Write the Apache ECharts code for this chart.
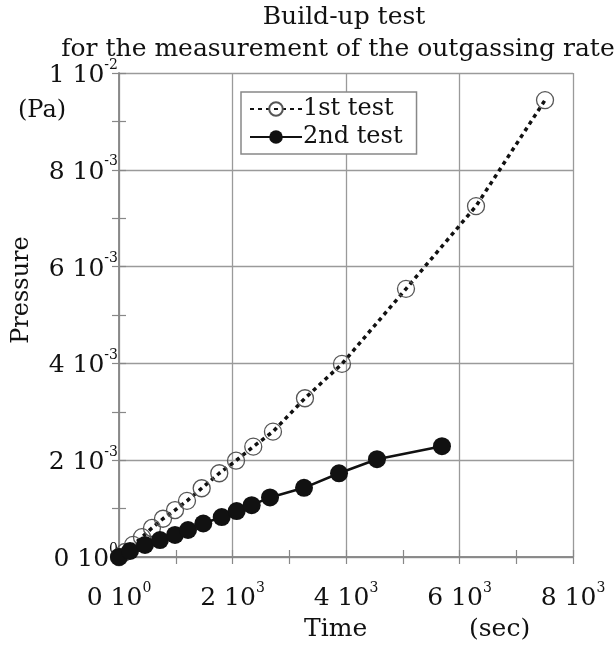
<!DOCTYPE html>
<html>
<head>
<meta charset="utf-8">
<script src="https://cdn.jsdelivr.net/npm/echarts@6/dist/echarts.min.js"></script>
<style>
html,body{margin:0;padding:0;background:#fff;}
#chart{width:614px;height:645px;}
</style>
</head>
<body>
<div id="chart"></div>
<script>
// ---- data ----
const test1Time = [0, 106, 247, 405, 581, 775, 987, 1198, 1457, 1767, 2062, 2366, 2713, 3277, 3929, 5057, 6291, 7507];
const test1Pressure = [0, 0.000103, 0.00025, 0.00041, 0.0006, 0.00079, 0.00097, 0.00116, 0.00142, 0.00173, 0.00199, 0.00228, 0.00259, 0.00328, 0.00399, 0.00554, 0.00725, 0.00944];
const test2Time = [0, 194, 458, 722, 987, 1216, 1485, 1810, 2074, 2338, 2661, 3260, 3877, 4546, 5691];
const test2Pressure = [0, 0.000124, 0.000248, 0.000351, 0.000455, 0.000558, 0.000692, 0.000826, 0.00095, 0.00107, 0.00123, 0.00143, 0.00173, 0.00202, 0.00229];
const xTickMantissa = ['0', '2', '4', '6', '8'];
const xTickExponent = ['0', '3', '3', '3', '3'];
const yTickMantissa = ['0', '2', '4', '6', '8', '1'];
const yTickExponent = ['0', '-3', '-3', '-3', '-3', '-2'];
const seriesNames = ['1st test', '2nd test'];

const FONT = '"DejaVu Serif", "Liberation Serif", serif';
const chart = echarts.init(document.getElementById('chart'));

const richStyle = {
  m: { fontSize: 25, fontFamily: FONT, color: '#111', lineHeight: 30, verticalAlign: 'bottom' },
  s: { fontSize: 14, fontFamily: FONT, color: '#111', lineHeight: 30, verticalAlign: 'top' }
};

function pairs(xs, ys) { return xs.map((x, i) => [x, ys[i]]); }

const gridCol = '#9a9a9a';
const common = {
  axisLine: { show: true, lineStyle: { color: '#888', width: 1.5 } },
  axisTick: { show: true, inside: true, length: 7, lineStyle: { color: '#888', width: 1.2 } },
  minorTick: { show: true, splitNumber: 2, length: 7, lineStyle: { color: '#888', width: 1.2 } },
};
const txt = (size) => ({ fontFamily: FONT, fontSize: size, fontWeight: 'normal', color: '#111' });

chart.setOption({
  animation: false,
  backgroundColor: '#fff',
  title: [
    { text: 'Build-up test', left: 339, top: 0, textAlign: 'center', textStyle: txt(25) },
    { text: 'for the measurement of the outgassing rate', left: 333, top: 32, textAlign: 'center', textStyle: txt(25) }
  ],
  graphic: [
    { type: 'text', left: 18, top: 99, style: { text: '(Pa)', font: '24px ' + FONT, fill: '#111' } },
    { type: 'text', x: 22, y: 290, rotation: Math.PI / 2,
      style: { text: 'Pressure', font: '24px ' + FONT, fill: '#111', align: 'center', verticalAlign: 'middle' } },
    { type: 'text', left: 304, top: 617, style: { text: 'Time', font: '25px ' + FONT, fill: '#111' } },
    { type: 'text', left: 469, top: 617, style: { text: '(sec)', font: '25px ' + FONT, fill: '#111' } }
  ],
  legend: {
    left: 241, top: 92, orient: 'vertical',
    data: seriesNames,
    backgroundColor: '#fff', borderColor: '#888', borderWidth: 1.5,
    padding: [5, 14, 5, 8], itemGap: 4, itemWidth: 52, itemHeight: 17,
    textStyle: { fontFamily: FONT, fontSize: 24, color: '#111', padding: [0, 0, 0, -4] }
  },
  grid: { left: 119, right: 41, top: 73, bottom: 88, containLabel: false, outerBoundsMode: 'none' },
  xAxis: [
    Object.assign({}, common, {
      type: 'value', min: 0, max: 8000, interval: 2000,
      axisLabel: { margin: 24, formatter: v => { const i = Math.round(v / 2000); return '{m|' + xTickMantissa[i] + ' 10}{s|' + xTickExponent[i] + '}'; }, rich: richStyle },
      splitLine: { show: true, lineStyle: { color: gridCol, width: 1.3 } }
    }),
    Object.assign({}, common, {
      type: 'value', min: 0, max: 8000, interval: 2000, position: 'top',
      axisLabel: { show: false }, splitLine: { show: false }
    })
  ],
  yAxis: [
    Object.assign({}, common, {
      type: 'value', min: 0, max: 0.01, interval: 0.002,
      axisLabel: { margin: 1, formatter: v => { const i = Math.round(v / 0.002); return '{m|' + yTickMantissa[i] + ' 10}{s|' + yTickExponent[i] + '}'; }, rich: richStyle },
      splitLine: { show: true, lineStyle: { color: gridCol, width: 1.3 } }
    }),
    Object.assign({}, common, {
      type: 'value', min: 0, max: 0.01, interval: 0.002, position: 'right',
      axisLabel: { show: false }, splitLine: { show: false }
    })
  ],
  series: [
    {
      name: seriesNames[0], type: 'line', data: pairs(test1Time, test1Pressure),
      symbol: 'circle', symbolSize: 17,
      lineStyle: { color: '#111', width: 3.5, type: [4, 4] },
      itemStyle: { color: 'rgba(255,255,255,0)', borderColor: '#555', borderWidth: 1.3 },
      z: 3
    },
    {
      name: seriesNames[1], type: 'line', data: pairs(test2Time, test2Pressure),
      symbol: 'circle', symbolSize: 18,
      lineStyle: { color: '#111', width: 2.5 },
      itemStyle: { color: '#111' },
      z: 4
    }
  ]
});
</script>
</body>
</html>
